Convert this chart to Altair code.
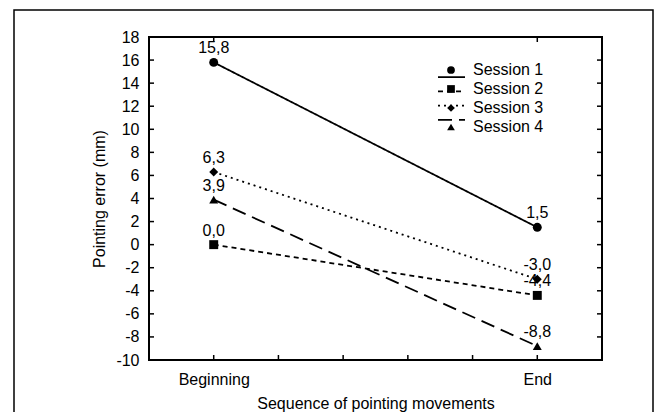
import altair as alt
import pandas as pd

# ---- data ----
sessions = ["Session 1", "Session 2", "Session 3", "Session 4"]
stage_pos = [0, 5]                      # Beginning, End on the x scale
begin_vals = [15.8, 0.0, 6.3, 3.9]
end_vals = [1.5, -4.4, -3.0, -8.8]
begin_labels = ["15,8", "0,0", "6,3", "3,9"]
end_labels = ["1,5", "-4,4", "-3,0", "-8,8"]

y_label_values = [-10, -8, -6, -4, -2, 0, 2, 4, 6, 8, 10, 12, 14, 16, 18]
y_tick_values = [-8, -6, -4, -2, 0, 2, 4, 6, 8, 10, 12, 14, 16]
x_tick_values = [0, 1, 2, 3, 4, 5]
x_top_tick_values = [0, 5]

shapes = ["circle", "square", "diamond", "triangle-up"]
dashes = [[1, 0], [5, 4], [2, 4], [14, 7]]

FONT = "Liberation Sans"
FS = 16
W, H = 453, 323

rows = []
for s, b, e, bl, el in zip(sessions, begin_vals, end_vals, begin_labels, end_labels):
    rows.append({"session": s, "pos": stage_pos[0], "value": b, "label": bl})
    rows.append({"session": s, "pos": stage_pos[1], "value": e, "label": el})
df = pd.DataFrame(rows)
leg = pd.DataFrame({"session": sessions})

xscale = alt.Scale(domain=[-1, 6], nice=False, zero=False)
yscale = alt.Scale(domain=[-10, 18], nice=False, zero=False)
shape_scale = alt.Scale(domain=sessions, range=shapes)
dash_scale = alt.Scale(domain=sessions, range=dashes)
leg_y = alt.Y("session:N", axis=None, scale=alt.Scale(domain=sessions, range=[33, 90], padding=0))

x_axis = alt.Axis(values=[0, 5], labelExpr="datum.value == 0 ? 'Beginning' : 'End'",
                  ticks=False, domain=False, grid=False, labelPadding=11,
                  title="Sequence of pointing movements", titlePadding=8)
y_axis = alt.Axis(values=y_label_values, labelExpr="datum.value + ''",
                  ticks=False, domain=False, grid=False,
                  labelPadding=10, title="Pointing error (mm)", titlePadding=8)

X = alt.X("pos:Q", scale=xscale, axis=x_axis)

base = alt.Chart(df)

lines = base.mark_line(color="black", strokeWidth=1.8).encode(
    x=X,
    y=alt.Y("value:Q", scale=yscale, axis=y_axis),
    strokeDash=alt.StrokeDash("session:N", scale=dash_scale, legend=None),
    detail="session:N",
)
labels = base.mark_text(dy=-14, fontSize=FS, font=FONT, color="black").encode(
    x=X,
    y=alt.Y("value:Q", scale=yscale, axis=None),
    text="label:N",
)
points = base.mark_point(filled=True, color="black", size=80, opacity=1).encode(
    x=X,
    y=alt.Y("value:Q", scale=yscale, axis=None),
    shape=alt.Shape("session:N", scale=shape_scale, legend=None),
)

# inward ticks
ytick_df = pd.DataFrame({"v": y_tick_values})
left_ticks = alt.Chart(ytick_df).mark_rule(color="black", strokeWidth=1.5).encode(
    y=alt.Y("v:Q", scale=yscale, axis=None), x=alt.value(0), x2=alt.value(5))
right_ticks = alt.Chart(ytick_df).mark_rule(color="black", strokeWidth=1.5).encode(
    y=alt.Y("v:Q", scale=yscale, axis=None), x=alt.value(W - 5), x2=alt.value(W))
bottom_ticks = alt.Chart(pd.DataFrame({"pos": x_tick_values})).mark_rule(color="black", strokeWidth=1.5).encode(
    x=X, y=alt.value(H - 5), y2=alt.value(H))
top_ticks = alt.Chart(pd.DataFrame({"pos": x_top_tick_values})).mark_rule(color="black", strokeWidth=1.5).encode(
    x=X, y=alt.value(0), y2=alt.value(5))

# custom legend
leg_lines = alt.Chart(leg).mark_rule(color="black", strokeWidth=1.8).encode(
    x=alt.value(289), x2=alt.value(316), y=leg_y,
    strokeDash=alt.StrokeDash("session:N", scale=dash_scale, legend=None))
leg_points = alt.Chart(leg).mark_point(filled=True, color="black", size=60, opacity=1).encode(
    x=alt.value(302), y=leg_y,
    shape=alt.Shape("session:N", scale=shape_scale, legend=None))
leg_text = alt.Chart(leg).mark_text(align="left", baseline="middle", fontSize=FS, font=FONT, color="black").encode(
    x=alt.value(324), y=leg_y, text="session:N")

# outer figure frame
frame = alt.Chart(pd.DataFrame({"f": [0]})).mark_rect(fillOpacity=0, stroke="black", strokeWidth=1.5).encode(
    x=alt.value(-135), x2=alt.value(504), y=alt.value(-27), y2=alt.value(430))

chart = alt.layer(
    frame, lines, labels, points, left_ticks, right_ticks, bottom_ticks, top_ticks,
    leg_lines, leg_points, leg_text,
).resolve_scale(y="independent").properties(
    width=W, height=H,
    autosize=alt.AutoSizeParams(type="none"),
    padding={"left": 141, "top": 29, "right": 61, "bottom": 52},
).configure(font=FONT).configure_view(
    stroke="black", strokeWidth=2
).configure_axis(
    labelFont=FONT, titleFont=FONT, labelFontSize=FS, titleFontSize=FS,
    labelColor="black", titleColor="black", titleFontWeight="normal",
)

chart.save("out.html", embed_options={"renderer": "svg", "actions": False})
